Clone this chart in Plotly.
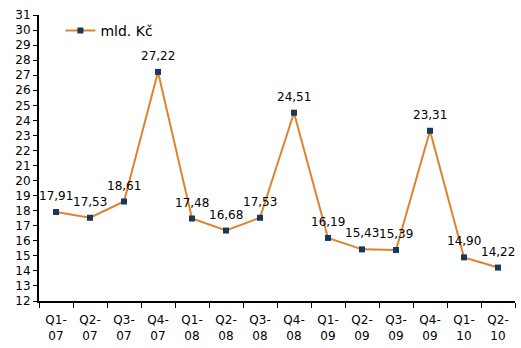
import plotly.graph_objects as go

categories = ["Q1-<br>07", "Q2-<br>07", "Q3-<br>07", "Q4-<br>07",
              "Q1-<br>08", "Q2-<br>08", "Q3-<br>08", "Q4-<br>08",
              "Q1-<br>09", "Q2-<br>09", "Q3-<br>09", "Q4-<br>09",
              "Q1-<br>10", "Q2-<br>10"]
values = [17.91, 17.53, 18.61, 27.22, 17.48, 16.68, 17.53, 24.51,
          16.19, 15.43, 15.39, 23.31, 14.90, 14.22]
labels = [f"{v:.2f}".replace(".", ",") for v in values]
series_name = "mld. Kč"
y_ticks = list(range(12, 32))

fig = go.Figure()
fig.add_trace(go.Scatter(
    x=categories, y=values, mode="lines+markers",
    name=series_name,
    line=dict(color="#E0822A", width=2),
    marker=dict(symbol="square", size=6, color="#17375E"),
    cliponaxis=False,
))

for c, v, t in zip(categories, values, labels):
    fig.add_annotation(x=c, y=v, text=t, showarrow=False, yshift=16,
                       font=dict(family="DejaVu Sans", size=12, color="#000000"))

fig.update_layout(
    width=521, height=348,
    margin=dict(l=39, r=6, t=15, b=47),
    paper_bgcolor="white", plot_bgcolor="white",
    font=dict(family="DejaVu Sans", size=12, color="#000000"),
    showlegend=True,
    legend=dict(x=0.045, y=1.0, xanchor="left", yanchor="top",
                bgcolor="rgba(0,0,0,0)", font=dict(size=14),
                itemwidth=30),
    xaxis=dict(
        type="category", range=[-0.5, 13.5],
        showline=True, linecolor="black", linewidth=2,
        ticks="outside", tickson="boundaries", ticklen=5, tickwidth=1,
        tickcolor="black", showgrid=False, zeroline=False,
        tickfont=dict(size=12), ticklabelstandoff=7,
    ),
    yaxis=dict(
        range=[12, 31], tickvals=y_ticks,
        showline=True, linecolor="black", linewidth=2,
        ticks="outside", ticklen=4, tickwidth=1, tickcolor="black",
        showgrid=False, zeroline=False, tickfont=dict(size=12),
    ),
)

fig.write_html("out.html")
